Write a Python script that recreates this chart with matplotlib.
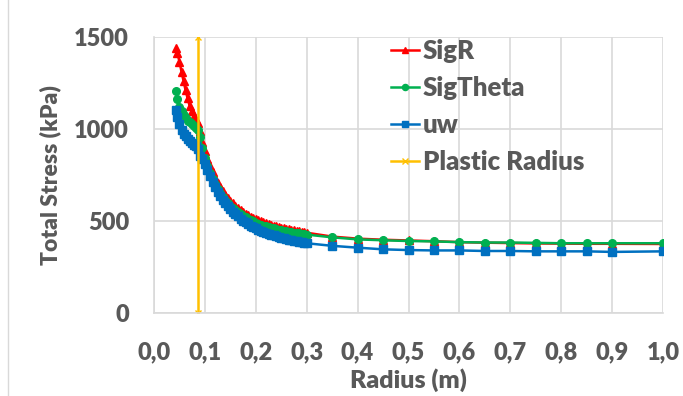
import matplotlib
matplotlib.use("Agg")
import matplotlib.pyplot as plt
from matplotlib.lines import Line2D
from matplotlib.ticker import FuncFormatter

# radius (m)
radius = [0.044, 0.046, 0.05, 0.054, 0.058, 0.062, 0.066, 0.07, 0.074, 0.078, 0.082, 0.087,
          0.09, 0.095, 0.1, 0.105, 0.11, 0.115, 0.12, 0.125, 0.13, 0.135, 0.14, 0.145,
          0.15, 0.155, 0.16, 0.165, 0.17, 0.175, 0.18, 0.185, 0.19, 0.195, 0.2, 0.205,
          0.21, 0.215, 0.22, 0.225, 0.23, 0.235, 0.24, 0.245, 0.25, 0.255, 0.26, 0.265,
          0.27, 0.275, 0.28, 0.285, 0.29, 0.295, 0.3,
          0.35, 0.4, 0.45, 0.5, 0.55, 0.6, 0.65, 0.7, 0.75, 0.8, 0.85, 0.9, 1.0]

sig_r = [1440, 1410, 1365, 1310, 1260, 1210, 1165, 1125, 1095, 1070, 1050, 1030,
         990, 930, 880, 836, 798, 764, 734, 707, 683, 662, 643, 626,
         610, 596, 583, 571, 560, 550, 541, 533, 525, 518, 512, 506,
         500, 494, 489, 484, 480, 476, 472, 468, 465, 462, 459, 456,
         453, 450, 447, 445, 442, 440, 437,
         416, 405, 399, 395, 391, 386, 383, 381, 379, 378, 377, 377, 376]

sig_theta = [1205, 1160, 1120, 1095, 1075, 1060, 1045, 1035, 1025, 1015, 1005, 995,
             954, 895, 844, 801, 763, 730, 701, 675, 653, 632, 614, 598,
             584, 570, 558, 547, 537, 528, 520, 512, 505, 498, 492, 487,
             481, 476, 472, 468, 464, 460, 456, 453, 450, 447, 444, 442,
             439, 437, 435, 433, 431, 429, 427,
             412, 401, 396, 392, 390, 386, 384, 384, 382, 380, 380, 380, 380]

uw = [1100, 1065, 1025, 995, 975, 960, 945, 935, 925, 915, 905, 890,
      855, 835, 810, 775, 742, 712, 685, 660, 638, 617, 598, 581,
      566, 551, 538, 526, 514, 503, 493, 483, 475, 468, 461, 454,
      448, 442, 437, 432, 427, 422, 418, 414, 410, 406, 403, 399,
      396, 393, 390, 388, 385, 382, 380,
      366, 356, 347, 343, 341, 341, 338, 338, 336, 336, 336, 333, 336]

plastic_x = [0.087, 0.087]
plastic_y = [0, 1500]

TXT = "#595959"
GRID = "#D9D9D9"
FONT = "Lato"
WEIGHT = "heavy"

fig = plt.figure(figsize=(6.83, 3.96), dpi=100)
ax = fig.add_axes([0.2255, 0.2088, 0.7452, 0.6985])

ax.plot(radius, sig_r, color="#FF0000", marker="^", markersize=5.5, lw=1.8, label="SigR")
ax.plot(radius, sig_theta, color="#00B050", marker="o", markersize=5.5, lw=1.8, label="SigTheta")
ax.plot(radius, uw, color="#0070C0", marker="s", markersize=5.5, lw=1.8, label="uw")
ax.plot(plastic_x, plastic_y, color="#FFC000", marker="x", markersize=5, lw=1.8,
        label="Plastic Radius")

ax.set_xlim(0, 1.0)
ax.set_ylim(0, 1500)
ax.set_xticks([i / 10 for i in range(11)])
ax.set_yticks([0, 500, 1000, 1500])
ax.xaxis.set_major_formatter(FuncFormatter(lambda v, p: f"{v:.1f}".replace(".", ",")))
ax.grid(True, color=GRID, lw=1.2)
ax.set_axisbelow(True)
for s in ["top", "right"]:
    ax.spines[s].set_visible(False)
for s in ["left", "bottom"]:
    ax.spines[s].set_color(GRID)
    ax.spines[s].set_linewidth(1.2)
ax.tick_params(axis="x", length=0, pad=20, labelsize=17, labelcolor=TXT)
ax.tick_params(axis="y", length=0, pad=18, labelsize=17, labelcolor=TXT)
for lab in ax.get_xticklabels() + ax.get_yticklabels():
    lab.set_fontfamily(FONT)
    lab.set_fontweight(WEIGHT)

ax.set_xlabel("Radius (m)", fontsize=18, fontweight=WEIGHT, color=TXT,
              fontfamily=FONT, labelpad=4)
ax.set_ylabel("Total Stress (kPa)", fontsize=16.5, fontweight=WEIGHT, color=TXT,
              fontfamily=FONT, labelpad=9)

leg = ax.legend(loc="upper left", bbox_to_anchor=(0.42, 1.075), frameon=False,
                prop={"family": FONT, "weight": WEIGHT, "size": 18.5},
                handlelength=1.1, handletextpad=0.15, labelspacing=0.5,
                markerscale=0.8)
for t in leg.get_texts():
    t.set_color(TXT)

fig.add_artist(Line2D([8 / 683, 8 / 683], [0, 1], color=GRID, lw=1))

fig.savefig("out.png", dpi=100)
